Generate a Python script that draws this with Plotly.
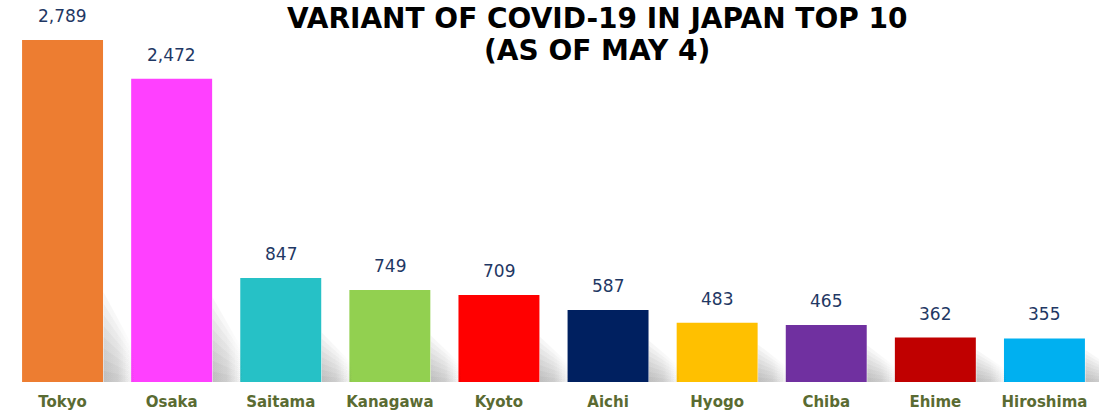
import math
import plotly.graph_objects as go

prefectures = ["Tokyo", "Osaka", "Saitama", "Kanagawa", "Kyoto", "Aichi", "Hyogo", "Chiba", "Ehime", "Hiroshima"]
cases = [2789, 2472, 847, 749, 709, 587, 483, 465, 362, 355]
colors = ["#ED7D31", "#FF40FF", "#26C1C6", "#92D050", "#FF0000", "#002060", "#FFC000", "#7030A0", "#C00000", "#00B0F0"]
title_lines = ["VARIANT OF COVID-19 IN JAPAN TOP 10", "(AS OF MAY 4)"]

BAR_W = 0.742
PX_PER_CAT = 109.1
H_TOP = 14
PLOT_H = 368
Y_MAX = 3000
PX_PER_UNIT = PLOT_H / Y_MAX
positions = list(range(len(prefectures)))

fig = go.Figure()

# soft drop-shadow to the right of each bar: stacked translucent wedges with horizontal fade
N_LAYERS = 8
LAYER_ALPHA = 0.036
SPREAD = 32 / PX_PER_CAT
for xi, v in zip(positions, cases):
    h_full = 1.7 * math.sqrt(v) / PX_PER_UNIT
    x0 = xi + BAR_W / 2 + 0.5 / PX_PER_CAT
    x1 = xi + BAR_W / 2 + SPREAD
    for k in range(1, N_LAYERS + 1):
        h = h_full * k / N_LAYERS
        fig.add_trace(go.Scatter(
            x=[x0, x1], y=[h, h * 0.35], mode="none", fill="tozeroy",
            fillgradient=dict(type="horizontal", start=x0, stop=x1,
                              colorscale=[[0, f"rgba(0,0,0,{LAYER_ALPHA})"],
                                          [0.45, f"rgba(0,0,0,{LAYER_ALPHA * 0.75})"],
                                          [1, "rgba(0,0,0,0)"]]),
            hoverinfo="skip", showlegend=False,
        ))

fig.add_trace(go.Bar(x=positions, y=cases, marker=dict(color=colors, line=dict(width=0)),
                     width=BAR_W, showlegend=False))

for xi, v in zip(positions, cases):
    fig.add_annotation(x=xi, y=v, text=f"{v:,}", showarrow=False, yanchor="bottom", yshift=12,
                       font=dict(family="DejaVu Sans", size=17, color="#1F3864"))

def paper_y(px):
    return (H_TOP + PLOT_H - px) / PLOT_H

for line, py in zip(title_lines, [18, 51]):
    fig.add_annotation(xref="paper", yref="paper", x=(597 - 8) / 1091, y=paper_y(py), text=line,
                       showarrow=False, yanchor="middle", xanchor="center",
                       font=dict(family="DejaVu Sans", size=28, color="#000000", weight="bold"))

fig.update_layout(
    width=1100, height=412,
    margin=dict(l=8, r=1, t=H_TOP, b=412 - H_TOP - PLOT_H),
    plot_bgcolor="white", paper_bgcolor="white",
    showlegend=False,
    xaxis=dict(range=[-0.5, len(prefectures) - 0.5], tickmode="array", tickvals=positions,
               ticktext=prefectures, showgrid=False, showline=False, zeroline=False, ticks="",
               ticklabelstandoff=9,
               tickfont=dict(family="DejaVu Sans", size=15, color="#5A6B32", weight="bold")),
    yaxis=dict(range=[0, Y_MAX], visible=False),
)
fig.write_html("out.html", config={"displayModeBar": False},
               post_script="document.body.style.margin='0px';")
